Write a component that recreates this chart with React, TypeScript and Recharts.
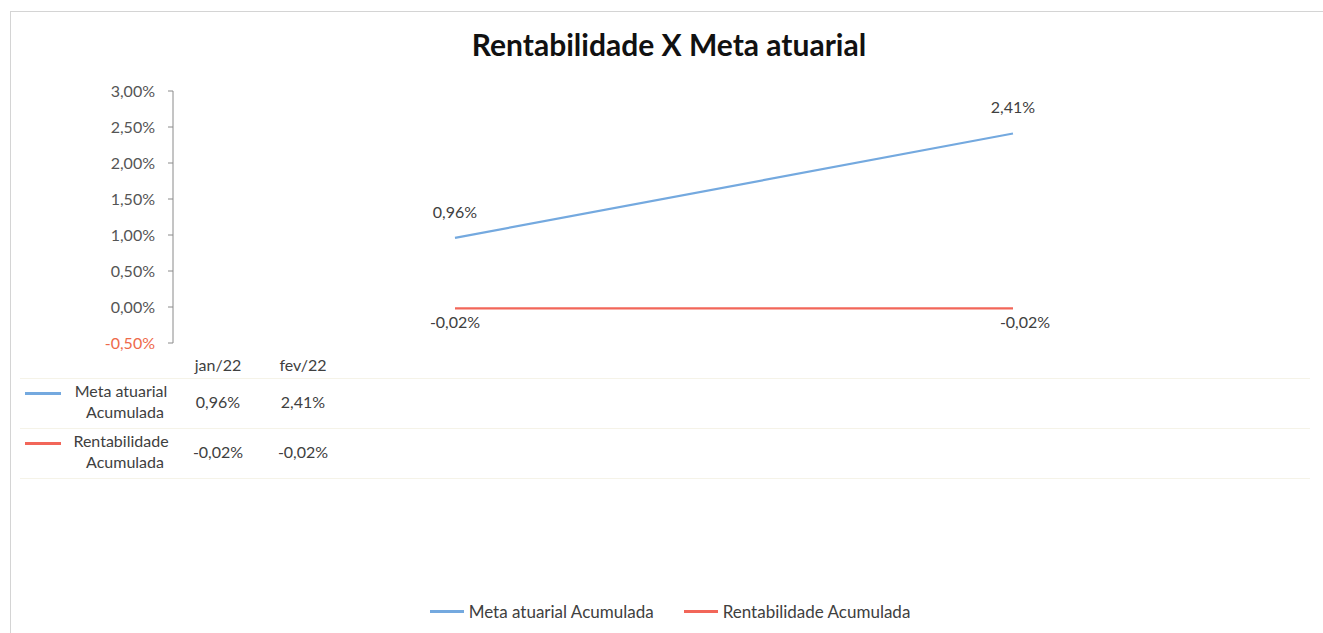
import React from "react";
import { LineChart, Line, XAxis, YAxis, LabelList } from "recharts";

const categories = ["jan/22", "fev/22"];
const metaAtuarial = [0.96, 2.41];
const rentabilidade = [-0.02, -0.02];
const yTicks = [-0.5, 0, 0.5, 1, 1.5, 2, 2.5, 3];

const seriesNames = ["Meta atuarial Acumulada", "Rentabilidade Acumulada"];
const tableLabels = [["Meta atuarial", "Acumulada"], ["Rentabilidade", "Acumulada"]];
const BLUE = "#74A9DF";
const RED = "#F26659";
const TXT = "#404040";
const FONT = "Lato, 'Open Sans', sans-serif";

const data = categories.map((c, i) => ({
  cat: c,
  meta: metaAtuarial[i],
  rent: rentabilidade[i],
}));

const fmt = (v: number) => v.toFixed(2).replace(".", ",") + "%";

const YTick = (props: any) => {
  const { x, y, payload } = props;
  const v = payload.value as number;
  return (
    <text
      x={x - 11}
      y={y}
      dy={5.5}
      textAnchor="end"
      fontSize={16}
      fontFamily={FONT}
      fill={v < 0 ? "#EE6A4A" : "#555555"}
    >
      {fmt(v)}
    </text>
  );
};

const makeLabel = (dy: number, dxLast: number) => (props: any) => {
  const { x, y, value, index } = props;
  return (
    <text
      x={x + (index === 1 ? dxLast : 0)}
      y={y + dy}
      textAnchor="middle"
      fontSize={16}
      fontFamily={FONT}
      fill={TXT}
    >
      {fmt(value)}
    </text>
  );
};

export default function App() {
  const series = [metaAtuarial, rentabilidade];
  const colors = [BLUE, RED];
  const colX = [218, 303];
  return (
    <div
      style={{
        position: "absolute",
        left: 0,
        top: 0,
        width: 1323,
        height: 633,
        background: "#fff",
        overflow: "hidden",
        fontFamily: FONT,
      }}
    >
      <div
        style={{
          position: "absolute",
          left: 10,
          top: 11,
          width: 1313,
          height: 622,
          borderTop: "1px solid #d4d4d4",
          borderLeft: "1px solid #d4d4d4",
          boxSizing: "border-box",
        }}
      />
      <div
        style={{
          position: "absolute",
          left: 0,
          top: 26,
          width: 1323,
          paddingLeft: 15,
          boxSizing: "border-box",
          textAlign: "center",
          fontSize: 30,
          fontWeight: 700,
          color: "#111",
        }}
      >
        Rentabilidade X Meta atuarial
      </div>
      <div style={{ position: "absolute", left: 0, top: 0 }}>
        <LineChart
          width={1323}
          height={633}
          data={data}
          margin={{ top: 91, bottom: 290, left: 93, right: 28 }}
        >
          <XAxis dataKey="cat" hide padding={{ left: 282, right: 282 }} />
          <YAxis
            width={80}
            domain={[-0.5, 3]}
            ticks={yTicks}
            interval={0}
            axisLine={{ stroke: "#8a8a8a" }}
            tickLine={{ stroke: "#8a8a8a" }}
            tickSize={5}
            tick={<YTick />}
          />
          <Line
            dataKey="meta"
            stroke={BLUE}
            strokeWidth={2.2}
            dot={false}
            isAnimationActive={false}
          >
            <LabelList dataKey="meta" content={makeLabel(-20, 0)} />
          </Line>
          <Line
            dataKey="rent"
            stroke={RED}
            strokeWidth={2.2}
            dot={false}
            isAnimationActive={false}
          >
            <LabelList dataKey="rent" content={makeLabel(20, 12)} />
          </Line>
        </LineChart>
      </div>
      {/* data table */}
      {[378, 428, 478].map((y) => (
        <div
          key={y}
          style={{ position: "absolute", left: 20, top: y, width: 1290, height: 1, background: "#f5f3e8" }}
        />
      ))}
      {categories.map((c, j) => (
        <div
          key={c}
          style={{
            position: "absolute",
            left: colX[j] - 40,
            width: 80,
            top: 355,
            textAlign: "center",
            fontSize: 16,
            color: TXT,
          }}
        >
          {c}
        </div>
      ))}
      {series.map((vals, i) => (
        <React.Fragment key={i}>
          <div
            style={{
              position: "absolute",
              left: 25,
              top: 392 + i * 50,
              width: 36,
              height: 2.5,
              background: colors[i],
            }}
          />
          <div
            style={{
              position: "absolute",
              left: 58,
              top: 380 + i * 50,
              width: 120,
              textAlign: "center",
              fontSize: 16,
              lineHeight: "21px",
              color: TXT,
            }}
          >
            <div style={{ paddingLeft: 6 }}>{tableLabels[i][0]}</div>
            <div style={{ paddingLeft: 14 }}>{tableLabels[i][1]}</div>
          </div>
          {vals.map((v, j) => (
            <div
              key={j}
              style={{
                position: "absolute",
                left: colX[j] - 45,
                width: 90,
                top: 392 + i * 50,
                textAlign: "center",
                fontSize: 16,
                color: TXT,
              }}
            >
              {fmt(v)}
            </div>
          ))}
        </React.Fragment>
      ))}
      {/* legend */}
      <div
        style={{
          position: "absolute",
          left: 0,
          top: 601,
          width: 1323,
          paddingLeft: 17,
          boxSizing: "border-box",
          display: "flex",
          justifyContent: "center",
          gap: 30,
          fontSize: 17,
          color: TXT,
        }}
      >
        {seriesNames.map((n, i) => (
          <div key={n} style={{ display: "flex", alignItems: "center" }}>
            <div style={{ width: 34, height: 2.5, background: colors[i], marginRight: 5 }} />
            <span>{n}</span>
          </div>
        ))}
      </div>
    </div>
  );
}
